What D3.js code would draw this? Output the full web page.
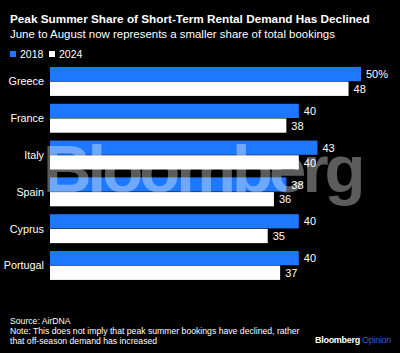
<!DOCTYPE html>
<html>
<head>
<meta charset="utf-8">
<script src="https://cdn.jsdelivr.net/npm/d3@7"></script>
<style>
  html, body { margin: 0; padding: 0; background: #000; }
  svg { display: block; font-family: "Liberation Sans", Arial, sans-serif; }
</style>
</head>
<body>
<div id="chart"></div>
<script>
// chart data
const countries = ["Greece", "France", "Italy", "Spain", "Cyprus", "Portugal"];
const series = ["2018", "2024"];
const share2018 = [50, 40, 43, 38, 40, 40];
const share2024 = [48, 38, 40, 36, 35, 37];

const width = 400, height = 353;
const blue = "#1d78ff";
const colors = {"2018": blue, "2024": "#ffffff"};

const svg = d3.select("#chart").append("svg")
    .attr("width", width)
    .attr("height", height);

svg.append("rect").attr("width", width).attr("height", height).attr("fill", "#000");

// shrink/grow a text's font so it spans the given width
function fit(sel, target) {
    const fs = +sel.attr("font-size");
    const w = sel.node().getComputedTextLength();
    sel.attr("font-size", fs * target / w);
    return sel;
}

// title + subtitle
fit(svg.append("text")
    .attr("x", 10).attr("y", 23)
    .attr("fill", "#fff")
    .attr("font-size", 14)
    .attr("font-weight", "bold")
    .text("Peak Summer Share of Short-Term Rental Demand Has Declined"), 360);

fit(svg.append("text")
    .attr("x", 10).attr("y", 38)
    .attr("fill", "#fff")
    .attr("font-size", 12.6)
    .text("June to August now represents a smaller share of total bookings"), 325);

// legend
const legend = svg.append("g").attr("transform", "translate(10,51)");
series.forEach((s, i) => {
    const g = legend.append("g").attr("transform", `translate(${i * 39},0)`);
    g.append("rect").attr("width", 6).attr("height", 6).attr("fill", colors[s]);
    g.append("text").attr("x", 10).attr("y", 6.5)
        .attr("fill", "#fff").attr("font-size", 10.5).text(s);
});

// scales
const y = d3.scaleBand()
    .domain(countries)
    .range([63.3, 284.1])
    .paddingInner(0.2)
    .paddingOuter(0.1);

const ySub = d3.scaleBand()
    .domain(series)
    .range([0, y.bandwidth()]);

const x = d3.scaleLinear()
    .domain([0, 50])
    .range([50, 361]);

const rows = countries.map((c, i) => ({
    country: c,
    values: [{s: "2018", v: share2018[i]}, {s: "2024", v: share2024[i]}]
}));

const groups = svg.append("g").selectAll("g")
    .data(rows)
    .join("g")
    .attr("transform", d => `translate(0,${y(d.country)})`);

groups.selectAll("rect")
    .data(d => d.values)
    .join("rect")
    .attr("x", x(0))
    .attr("y", d => ySub(d.s))
    .attr("width", d => x(d.v) - x(0))
    .attr("height", ySub.bandwidth() - 0.5)
    .attr("fill", d => colors[d.s]);

// watermark (sits over the bars, under the value labels)
fit(svg.append("text")
    .attr("x", 43)
    .attr("y", 192)
    .attr("fill", "#fff")
    .attr("fill-opacity", 0.36)
    .attr("font-size", 66)
    .attr("font-weight", "bold")
    .attr("letter-spacing", -4)
    .text("Bloomberg"), 318);

groups.selectAll("text.val")
    .data((d, i) => d.values.map(v => ({...v, first: i === 0})))
    .join("text")
    .attr("class", "val")
    .attr("x", d => x(d.v) + 5)
    .attr("y", d => ySub(d.s) + ySub.bandwidth() / 2)
    .attr("dy", "0.35em")
    .attr("fill", "#fff")
    .attr("font-size", 11)
    .text(d => d.first && d.s === "2018" ? d.v + "%" : d.v);

// category labels
groups.append("text")
    .attr("x", 44)
    .attr("y", y.bandwidth() / 2)
    .attr("dy", "0.35em")
    .attr("text-anchor", "end")
    .attr("fill", "#fff")
    .attr("font-size", 10.8)
    .text(d => d.country);

// footer
const foot = ["Source: AirDNA",
    "Note: This does not imply that peak summer bookings have declined, rather",
    "that off-season demand has increased"];
const footText = svg.append("g").selectAll("text")
    .data(foot)
    .join("text")
    .attr("x", 10)
    .attr("y", (d, i) => 324 + i * 10)
    .attr("fill", "#fff")
    .attr("font-size", 10)
    .text(d => d);
const noteW = footText.nodes()[1].getComputedTextLength();
footText.attr("font-size", 10 * 290 / noteW);

const brand = svg.append("text")
    .attr("x", 391).attr("y", 343)
    .attr("text-anchor", "end")
    .attr("font-size", 9)
    .attr("font-weight", "bold")
    .attr("letter-spacing", -0.3);
brand.append("tspan").attr("fill", "#fff").text("Bloomberg ");
brand.append("tspan").attr("fill", "#2a5bd7").attr("font-weight", "normal").text("Opinion");
</script>
</body>
</html>
